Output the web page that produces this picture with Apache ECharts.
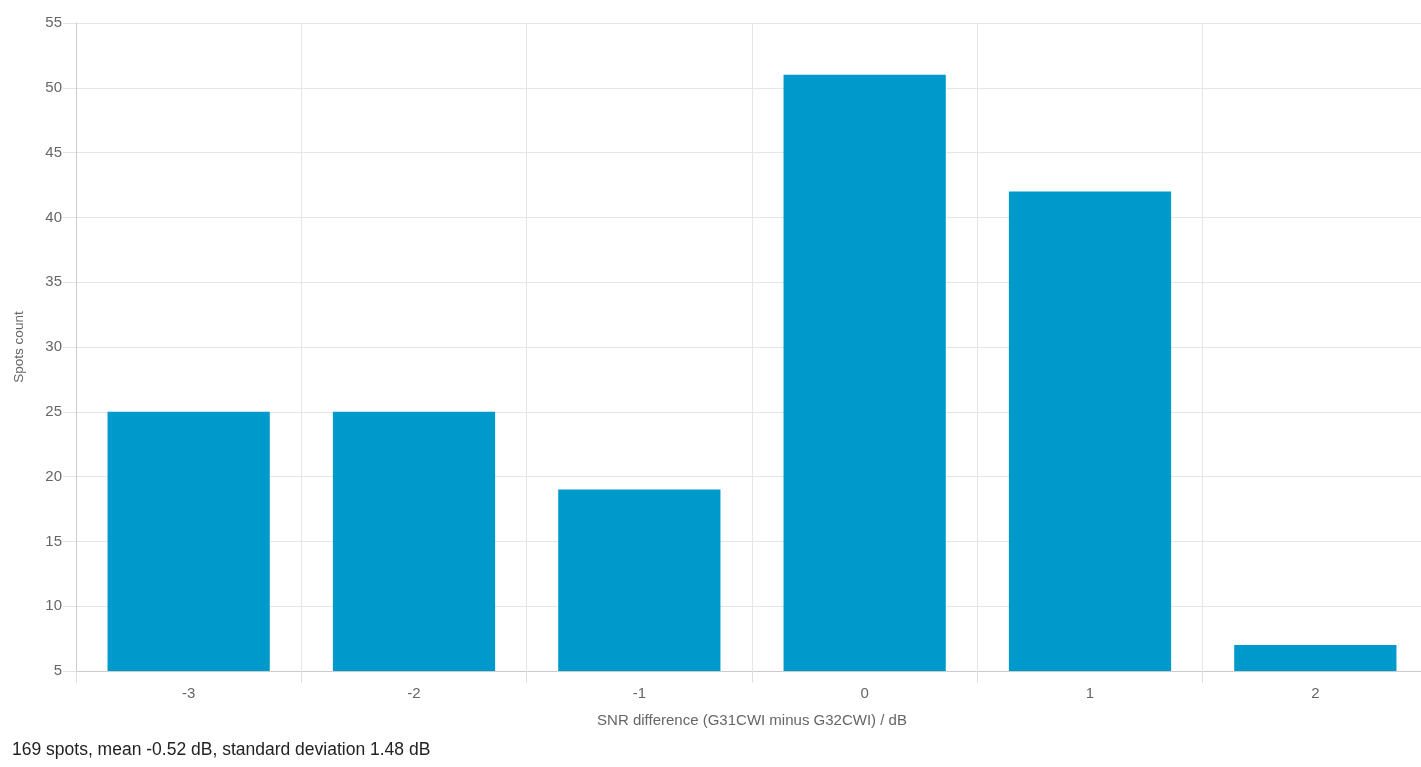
<!DOCTYPE html>
<html>
<head>
<meta charset="utf-8">
<script src="https://cdn.jsdelivr.net/npm/echarts@6/dist/echarts.min.js"></script>
<style>
html,body{margin:0;padding:0;background:#fff;overflow:hidden;width:1421px;height:767px;}
#chart{width:1428px;height:767px;}
</style>
</head>
<body>
<div id="chart"></div>
<script>
const categories = ['-3', '-2', '-1', '0', '1', '2'];
const spotCounts = [25, 25, 19, 51, 42, 7];
const yTicks = { min: 5, max: 55, interval: 5 };
const xAxisName = 'SNR difference (G31CWI minus G32CWI) / dB';
const yAxisName = 'Spots count';
const footnote = '169 spots, mean -0.52 dB, standard deviation 1.48 dB';

const chart = echarts.init(document.getElementById('chart'));
chart.setOption({
  animation: false,
  textStyle: { fontFamily: 'Liberation Sans, Arial, sans-serif' },
  title: {
    text: footnote,
    left: 7,
    top: 736,
    textStyle: { fontSize: 17.5, fontWeight: 'normal', color: '#222', fontFamily: 'Liberation Sans, Arial, sans-serif' }
  },
  grid: { left: 76, right: 0, top: 23, bottom: 96, containLabel: false },
  xAxis: {
    type: 'category',
    data: categories,
    name: xAxisName,
    nameLocation: 'middle',
    nameGap: 42,
    nameTextStyle: { color: '#666', fontSize: 15 },
    axisLine: { show: true, lineStyle: { color: '#ccc' } },
    axisTick: { show: true, length: 12, lineStyle: { color: '#e0e0e0' } },
    axisLabel: { color: '#666', fontSize: 15, margin: 15 },
    splitLine: { show: true, lineStyle: { color: '#e6e6e6' } }
  },
  yAxis: {
    type: 'value',
    min: yTicks.min,
    max: yTicks.max,
    interval: yTicks.interval,
    name: yAxisName,
    nameLocation: 'middle',
    nameGap: 50,
    nameTextStyle: { color: '#666', fontSize: 13.5 },
    axisLine: { show: true, lineStyle: { color: '#ccc' } },
    axisTick: { show: true, length: 13, lineStyle: { color: '#e3e3e3' } },
    axisLabel: { color: '#666', fontSize: 15, margin: 14, verticalAlign: 'middle' },
    splitLine: { show: true, lineStyle: { color: '#e6e6e6' } }
  },
  series: [{
    type: 'bar',
    data: spotCounts,
    barCategoryGap: '28%',
    itemStyle: { color: '#0099cc' }
  }]
});
</script>
</body>
</html>
